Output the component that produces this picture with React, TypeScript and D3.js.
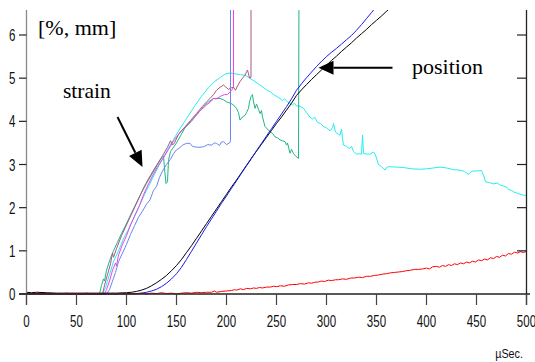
import React from "react";
import * as d3 from "d3";

type P = [number, number];

const xTicks = [0, 50, 100, 150, 200, 250, 300, 350, 400, 450, 500];
const yTicks = [0, 1, 2, 3, 4, 5, 6];
const unitLabel = "[%, mm]";
const xUnit = "µSec.";

const cyanStrain: P[] = [[0,0],[76,0],[79,0.15],[83,0.45],[87,0.75],[92,1.0],[97,1.28],[102,1.5],[108,1.8],[114,2.1],[120,2.4],[126,2.68],[133,3.0],[140,3.3],[147,3.58],[154,3.85],[161,4.1],[168,4.35],[175,4.58],[182,4.78],[188,4.92],[194,5.02],[199,5.1],[204,5.12],[209,5.1],[214,5.08],[218.5,5.07],[222,5.02],[228.5,4.92],[233,4.85],[236,4.8],[240,4.73],[244,4.68],[247,4.62],[250,4.58],[253.5,4.53],[256,4.48],[258,4.52],[261,4.45],[263.5,4.42],[266,4.38],[268,4.42],[270,4.36],[273.5,4.35],[277,4.3],[280,4.2],[283.5,4.1],[286,4.05],[288,4.1],[291,3.98],[294,3.95],[297,3.88],[300,3.85],[303.5,3.78],[306,3.85],[307,3.95],[309,3.75],[312,3.7],[313.5,3.68],[315,3.82],[316,3.6],[317,3.45],[320,3.42],[323,3.37],[325,3.42],[327,3.3],[330,3.24],[333,3.25],[335,3.24],[336,3.68],[337,3.26],[340,3.24],[343.5,3.24],[347,3.29],[349,3.22],[352,3.0],[355,2.95],[358.5,2.87],[360,2.93],[362,2.95],[370,2.94],[377,2.93],[385,2.9],[393.5,2.89],[400,2.9],[407,2.92],[413.5,2.94],[420,2.92],[427,2.88],[433.5,2.87],[438,2.84],[442,2.77],[444,2.82],[446.5,2.85],[451,2.85],[455,2.86],[457,2.75],[459,2.6],[463,2.58],[467,2.55],[471,2.57],[474,2.52],[477,2.5],[480,2.48],[482,2.42],[485,2.4],[487,2.37],[491,2.33],[495,2.3],[500,2.28]];

const greenStrain: P[] = [[0,0],[73,0],[75,0.2],[77,0.35],[78,0.3],[80,0.55],[83.5,0.8],[87,1.0],[91,1.2],[95,1.4],[98.5,1.56],[103,1.78],[108,2.02],[114.5,2.33],[120,2.56],[126,2.8],[131,3.0],[135,3.15],[137,3.2],[138,2.9],[139.5,2.56],[141,2.6],[142,3.1],[144,3.3],[150,3.5],[158.5,3.85],[165,4.0],[170,4.15],[177,4.34],[182,4.45],[187,4.53],[193.5,4.53],[197,4.5],[200,4.45],[204,4.42],[207,4.38],[210,4.3],[212,4.2],[213.5,4.03],[216,4.1],[218.5,4.14],[220,4.2],[222,4.3],[223,4.45],[224.5,4.57],[226,4.62],[227,4.45],[228.5,4.3],[230,4.4],[232,4.28],[233.5,4.18],[235,4.25],[236,4.1],[238.5,3.88],[241,3.82],[243.5,3.76],[246,3.72],[248.5,3.64],[251,3.62],[253.5,3.57],[256,3.55],[258.5,3.53],[260,3.45],[261,3.5],[263.5,3.26],[265,3.35],[267,3.25],[269,3.2],[272,3.14],[272.5,7.2]];

const magentaStrain: P[] = [[0,0],[78,0],[80,0.1],[83,0.3],[86,0.55],[89,0.72],[90,0.65],[92,0.9],[96,1.15],[100,1.35],[104,1.6],[109,1.85],[113,2.05],[117,2.3],[122,2.55],[127,2.78],[131,2.95],[136,3.12],[142,3.35],[148,3.58],[155,3.78],[162,3.95],[168,4.1],[174,4.25],[180,4.38],[184,4.45],[187,4.53],[190,4.52],[194,4.58],[198,4.62],[201,4.62],[203.5,4.68],[206,4.75],[207,4.8],[207,7.2]];

const lightBlueStrain: P[] = [[0,0],[80,0],[83,0.1],[86,0.3],[89,0.5],[92,0.75],[96,0.95],[100,1.15],[104,1.38],[108,1.58],[112,1.78],[116,1.92],[120,2.08],[123.5,2.18],[127,2.4],[130,2.49],[133,2.7],[136,2.85],[140,3.0],[144,3.12],[147,3.25],[150,3.34],[153,3.38],[156,3.45],[160,3.49],[163.5,3.49],[166,3.42],[170,3.4],[173.5,3.4],[177,3.41],[181,3.46],[185,3.45],[188,3.5],[190,3.49],[193,3.44],[195,3.52],[197,3.53],[200,3.46],[203,3.5],[204,3.55],[204,7.2]];

const mauveStrain: P[] = [[0,0],[76,0],[78,0.2],[81,0.45],[84,0.7],[86,0.95],[87,0.85],[90,1.05],[95,1.35],[100,1.6],[106,1.9],[112,2.2],[118,2.5],[124,2.75],[130,2.98],[136,3.2],[141,3.4],[144,3.55],[146,3.45],[148,3.5],[152,3.7],[158,3.86],[164,4.02],[170,4.18],[176,4.35],[180,4.45],[183.5,4.53],[187,4.62],[190,4.72],[193.5,4.79],[197,4.84],[199,4.8],[202,4.74],[205,4.78],[207,4.79],[209,4.72],[211,4.82],[213.5,4.92],[216,5.0],[218.5,5.07],[221,5.19],[222,5.1],[223,5.0],[224.5,5.02],[224.5,7.2]];

const blackPosition: P[] = [[0,0.04],[5,0.03],[10,0.04],[20,0.03],[30,0.02],[40,0.02],[50,0.02],[60,0.02],[70,0.02],[80,0.02],[90,0.02],[100,0.03],[105,0.04],[110,0.06],[115,0.09],[120,0.13],[125,0.19],[130,0.26],[135,0.34],[140,0.43],[145,0.54],[150,0.66],[155,0.8],[160,0.96],[165,1.12],[170,1.29],[175,1.46],[180,1.63],[185,1.8],[190,1.97],[195,2.14],[200,2.31],[205,2.48],[210,2.64],[215,2.81],[220,2.98],[225,3.15],[230,3.31],[235,3.47],[240,3.63],[245,3.79],[250,3.95],[255,4.1],[260,4.26],[265,4.42],[270,4.6],[275,4.73],[280,4.85],[285,4.97],[290,5.08],[295,5.19],[300,5.3],[305,5.41],[310,5.51],[315,5.62],[320,5.72],[325,5.82],[330,5.93],[335,6.03],[340,6.13],[345,6.24],[350,6.34],[355,6.44],[360,6.55],[365,6.65],[370,6.75]];

const bluePosition: P[] = [[0,0.01],[50,0.0],[100,0.0],[110,0.01],[115,0.02],[120,0.04],[125,0.07],[130,0.11],[135,0.17],[140,0.25],[145,0.35],[150,0.47],[155,0.62],[160,0.8],[165,0.99],[170,1.18],[175,1.37],[180,1.56],[185,1.74],[190,1.92],[195,2.1],[200,2.27],[205,2.45],[210,2.62],[215,2.8],[220,2.97],[225,3.14],[230,3.32],[235,3.49],[240,3.66],[245,3.83],[250,4.0],[255,4.17],[260,4.34],[265,4.52],[270,4.72],[275,4.87],[280,5.01],[285,5.14],[290,5.27],[295,5.39],[300,5.5],[305,5.6],[310,5.69],[315,5.79],[320,5.89],[325,5.99],[330,6.11],[335,6.24],[340,6.38],[345,6.52],[350,6.66],[355,6.8]];

const redSeries: P[] = [[0,0.01],[5,0.0],[10,0.02],[15,0.0],[20,0.01],[25,-0.01],[30,0.01],[35,0.0],[40,0.02],[45,0.0],[50,0.01],[55,0.0],[60,0.02],[65,0.0],[70,0.01],[75,-0.01],[80,0.0],[85,0.01],[90,0.0],[95,0.02],[100,0.0],[105,0.01],[110,0.0],[115,0.02],[120,0.0],[125,0.02],[130,0.01],[135,0.03],[140,0.01],[145,0.02],[150,0.0],[155,0.02],[160,0.03],[165,0.02],[170,0.04],[175,0.03],[180,0.04],[185,0.04],[188,0.07],[190,0.04],[195,0.06],[200,0.07],[205,0.08],[208,0.1],[210,0.09],[214,0.12],[217,0.1],[220,0.13],[224,0.12],[227,0.14],[230,0.13],[233,0.15],[236,0.14],[240,0.16],[244,0.16],[247,0.18],[250,0.17],[254,0.19],[258,0.18],[262,0.21],[266,0.22],[270,0.22],[274,0.24],[278,0.23],[282,0.26],[285,0.25],[288,0.27],[292,0.28],[295,0.3],[298,0.29],[302,0.32],[305,0.31],[309,0.33],[312,0.33],[316,0.35],[320,0.34],[324,0.37],[328,0.37],[332,0.39],[336,0.38],[340,0.41],[344,0.41],[348,0.43],[352,0.44],[356,0.46],[360,0.47],[364,0.49],[368,0.5],[372,0.51],[376,0.52],[380,0.54],[384,0.55],[388,0.57],[392,0.57],[396,0.58],[400,0.6],[403,0.58],[406,0.63],[410,0.64],[413,0.62],[416,0.66],[419,0.64],[422,0.68],[425,0.66],[428,0.7],[431,0.68],[434,0.72],[437,0.7],[440,0.74],[443,0.72],[446,0.76],[449,0.74],[452,0.79],[455,0.77],[458,0.81],[461,0.79],[464,0.84],[467,0.82],[470,0.87],[473,0.85],[476,0.9],[479,0.88],[482,0.94],[485,0.92],[488,0.97],[491,0.95],[494,0.98],[497,0.96],[500,0.99]];

const seriesList: { data: P[]; color: string }[] = [
  { data: cyanStrain, color: "#22eef0" },
  { data: greenStrain, color: "#1fb585" },
  { data: lightBlueStrain, color: "#6a86ec" },
  { data: magentaStrain, color: "#f040f0" },
  { data: mauveStrain, color: "#a85a80" },
  { data: blackPosition, color: "#000000" },
  { data: bluePosition, color: "#1a1aee" },
  { data: redSeries, color: "#ff0000" },
];

export default function App() {
  const W = 535, H = 362;
  const x = d3.scaleLinear().domain([0, 500]).range([26.5, 526.5]);
  const y = d3.scaleLinear().domain([0, 6]).range([294, 35]);
  const topY = 10;
  const line = d3.line<P>().x(d => x(d[0])).y(d => y(d[1]));

  const strainTip: P = [116, 2.94];
  const strainTail: P = [91, 4.1];
  const posTip: P = [292, 5.24];
  const posTail: P = [366, 5.24];

  const arrow = (tail: P, tip: P, len: number, half: number) => {
    const x1 = x(tail[0]), y1 = y(tail[1]), x2 = x(tip[0]), y2 = y(tip[1]);
    const dx = x2 - x1, dy = y2 - y1, L = Math.hypot(dx, dy);
    const ux = dx / L, uy = dy / L;
    const bx = x2 - ux * len, by = y2 - uy * len;
    const pts = `${x2},${y2} ${bx - uy * half},${by + ux * half} ${bx + uy * half},${by - ux * half}`;
    return (
      <g>
        <line x1={x1} y1={y1} x2={bx} y2={by} stroke="#000" strokeWidth={2} />
        <polygon points={pts} fill="#000" />
      </g>
    );
  };

  return (
    <svg width={W} height={H} style={{ position: "absolute", left: 0, top: 0, background: "#fff" }}>
      <defs>
        <clipPath id="plotclip">
          <rect x={x(0)} y={topY} width={x(500) - x(0)} height={y(0) - topY + 2} />
        </clipPath>
      </defs>
      <rect width={W} height={H} fill="#fff" />
      <g clipPath="url(#plotclip)" fill="none">
        {seriesList.map((s, i) => (
          <path key={i} d={line(s.data) || ""} stroke={s.color} strokeWidth={1} />
        ))}
      </g>
      {/* left axis */}
      <line x1={x(0)} x2={x(0)} y1={topY} y2={305} stroke="#8a8a8a" strokeWidth={1.3} />
      {/* right axis */}
      <line x1={x(500)} x2={x(500)} y1={topY} y2={305} stroke="#222" strokeWidth={1.3} />
      {/* bottom axis */}
      <line x1={19} x2={530} y1={y(0)} y2={y(0)} stroke="#222" strokeWidth={1.3} />
      {yTicks.map(t => (
        <g key={"y" + t}>
          <line x1={19} x2={x(0)} y1={y(t)} y2={y(t)} stroke="#222" strokeWidth={1.2} />
          {t > 0 && <line x1={x(500) - 9.5} x2={x(500)} y1={y(t)} y2={y(t)} stroke="#222" strokeWidth={1.2} />}
          <g transform={`translate(15.5,${y(t) + 6}) scale(0.68,1)`}>
            <text textAnchor="end" fontFamily="'Liberation Sans', Arial, sans-serif" fontSize={17} fill="#111">{t}</text>
          </g>
        </g>
      ))}
      {xTicks.map(t => (
        <g key={"x" + t}>
          <line x1={x(t)} x2={x(t)} y1={y(0)} y2={305} stroke="#444" strokeWidth={1.2} />
          <g transform={`translate(${x(t)},327) scale(0.68,1)`}>
            <text textAnchor="middle" fontFamily="'Liberation Sans', Arial, sans-serif" fontSize={17} fill="#111">{t}</text>
          </g>
        </g>
      ))}
      <g transform="translate(523,358) scale(0.9,1)">
        <text textAnchor="end" fontFamily="'Liberation Sans', Arial, sans-serif" fontSize={12} fill="#111">{xUnit}</text>
      </g>
      <text x={38} y={34.5} fontFamily="'Liberation Serif', 'Times New Roman', serif" fontSize={22} fill="#000">{unitLabel}</text>
      <text x={63} y={97.5} fontFamily="'Liberation Serif', 'Times New Roman', serif" fontSize={21.5} fill="#000">strain</text>
      <text x={412} y={74} fontFamily="'Liberation Serif', 'Times New Roman', serif" fontSize={22} fill="#000">position</text>
      {arrow(strainTail, strainTip, 16, 7)}
      {arrow(posTail, posTip, 15, 7)}
    </svg>
  );
}
